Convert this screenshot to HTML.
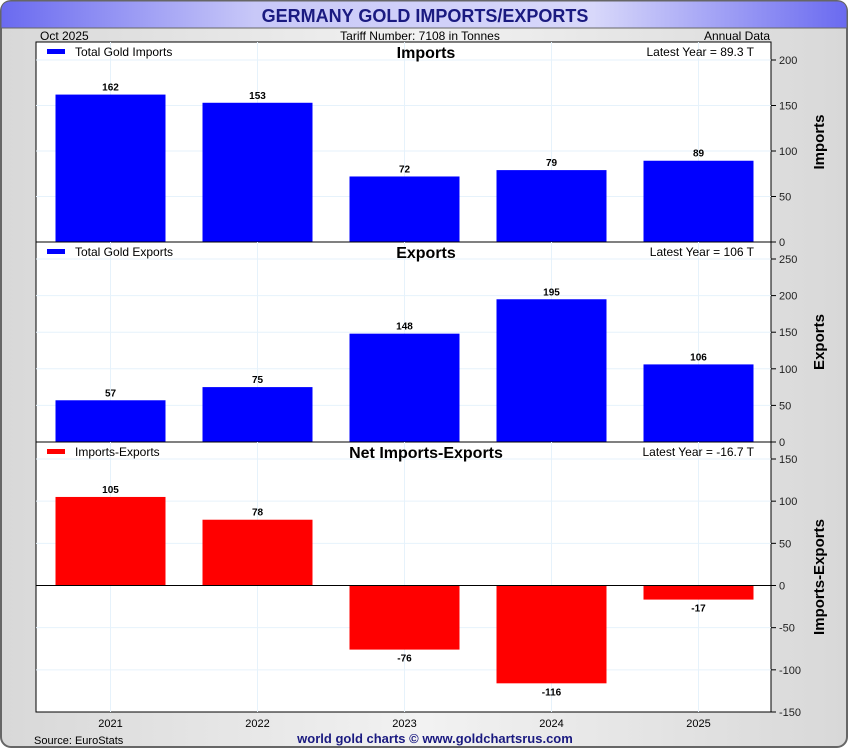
<!DOCTYPE html>
<html><head><meta charset="utf-8"><style>
body{margin:0;background:#fff;font-family:"Liberation Sans",Arial,sans-serif}
svg text{font-family:"Liberation Sans",Arial,sans-serif}
</style></head><body>
<svg id="chart" width="850" height="750" xmlns="http://www.w3.org/2000/svg">
<defs>
<linearGradient id="bg" x1="0" x2="1" y1="0" y2="0"><stop offset="0" stop-color="#d8d8d8"/><stop offset="0.5" stop-color="#f2f2f2"/><stop offset="1" stop-color="#d8d8d8"/></linearGradient>
<linearGradient id="tb" x1="0" x2="1" y1="0" y2="0"><stop offset="0" stop-color="#6a6af0"/><stop offset="0.3" stop-color="#c8c8f8"/><stop offset="0.7" stop-color="#d8d8fa"/><stop offset="1" stop-color="#6a6af0"/></linearGradient>
</defs>
<rect x="1" y="1" width="846" height="746" rx="10" fill="url(#bg)" stroke="#666" stroke-width="2"/>
<path d="M1,28 L1,11 Q1,1 11,1 L837,1 Q847,1 847,11 L847,28 Z" fill="url(#tb)" stroke="#666"/>
<text x="425" y="22" text-anchor="middle" font-size="18" font-weight="bold" fill="#1a1a80">GERMANY GOLD IMPORTS/EXPORTS</text>
<text x="40" y="40" font-size="12">Oct  2025</text>
<text x="420" y="40" text-anchor="middle" font-size="12">Tariff Number: 7108 in Tonnes</text>
<text x="770" y="40" text-anchor="end" font-size="12">Annual Data</text>
<text x="34" y="744" font-size="11">Source: EuroStats</text>
<text x="435" y="743" text-anchor="middle" font-size="13" font-weight="bold" fill="#1a1a80">world gold charts © www.goldchartsrus.com</text>
<g id="plots"></g>
</svg>
<script>
const years = ["2021","2022","2023","2024","2025"];
const imports = [162,153,72,79,89.3];
const exports = [57,75,148,195,106];
const net = [105,78,-76,-116,-16.7];
const importTicks = [0,50,100,150,200];
const exportTicks = [0,50,100,150,200,250];
const netTicks = [-150,-100,-50,0,50,100,150];
const importLabels = ["162","153","72","79","89"];
const exportLabels = ["57","75","148","195","106"];
const netLabels = ["105","78","-76","-116","-17"];

const NS="http://www.w3.org/2000/svg";
const g=document.getElementById('plots');
const L=36,R=771,band=(R-L)/5,bw=110;
function mk(t,a,txt){const e=document.createElementNS(NS,t);for(const k in a)e.setAttribute(k,a[k]);if(txt!==undefined)e.textContent=txt;g.appendChild(e);return e;}
function xc(i){return L+band*(i+0.5)+1;}

function panel(o){
  const y=v=>o.y0-(v-o.min)*(o.y0-o.yMax)/(o.max-o.min);
  const p=mk('rect',{x:L,y:o.top,width:R-L,height:o.bot-o.top,fill:'#fff',stroke:'#000'});
  
  
  years.forEach((yr,i)=>{const l=mk('line',{x1:xc(i),x2:xc(i),y1:o.top,y2:o.bot,stroke:'#e6f2fb'});
    
    });
  o.ticks.forEach(t=>{
    const yy=y(t);
    if(t!==0&&yy>o.top+2&&yy<o.bot-2){const l=mk('line',{x1:L,x2:R,y1:yy,y2:yy,stroke:'#e6f2fb'});
      
      }
    const tk=mk('line',{x1:R,x2:R+5,y1:yy,y2:yy,stroke:'#000'});
    
    
    const tl=mk('text',{x:R+8,y:yy+4,'font-size':11,fill:'#222'},String(t));
    
    
  });
  o.vals.forEach((v,i)=>{
    const y1=y(Math.max(v,0)),y2=y(Math.min(v,0));
    const b=mk('rect',{x:xc(i)-bw/2,y:y1,width:bw,height:Math.max(0,y2-y1),fill:o.color});
    
    
    const ly=v>=0?y1-4:y2+12;
    const t=mk('text',{x:xc(i),y:ly,'text-anchor':'middle','font-size':10,'font-weight':'bold'},o.labels[i]);
    
    
  });
  if(o.min<0){const z=mk('line',{x1:L,x2:R,y1:y(0),y2:y(0),stroke:'#000'});
    
    }
  const lg=mk('rect',{x:47,y:o.top+7,width:18,height:5,fill:o.color});
  
  
  const lt=mk('text',{x:75,y:o.top+14,'font-size':12},o.legend);
  
  
  const pt=mk('text',{x:426,y:o.top+16,'text-anchor':'middle','font-size':16,'font-weight':'bold'},o.title);
  
  
  const ll=mk('text',{x:754,y:o.top+14,'text-anchor':'end','font-size':12},o.latest);
  
  
  const cy=(o.top+o.bot)/2;
  const at=mk('text',{x:824,y:cy,'text-anchor':'middle','font-size':15,'font-weight':'bold',transform:`rotate(-90 824 ${cy})`},o.axis);
  
  
}
panel({name:'imports',top:42,bot:242,y0:242,yMax:60,min:0,max:200,ticks:importTicks,vals:imports,labels:importLabels,color:'#0000ff',legend:'Total Gold Imports',title:'Imports',latest:'Latest Year = 89.3 T',axis:'Imports'});
panel({name:'exports',top:242,bot:442,y0:442,yMax:259,min:0,max:250,ticks:exportTicks,vals:exports,labels:exportLabels,color:'#0000ff',legend:'Total Gold Exports',title:'Exports',latest:'Latest Year = 106 T',axis:'Exports'});
panel({name:'net',top:442,bot:712,y0:712,yMax:459,min:-150,max:150,ticks:netTicks,vals:net,labels:netLabels,color:'#ff0000',legend:'Imports-Exports',title:'Net Imports-Exports',latest:'Latest Year = -16.7 T',axis:'Imports-Exports'});
years.forEach((yr,i)=>{
  const t=mk('text',{x:xc(i),y:727,'text-anchor':'middle','font-size':11},yr);
  
  
});
</script>
</body></html>
